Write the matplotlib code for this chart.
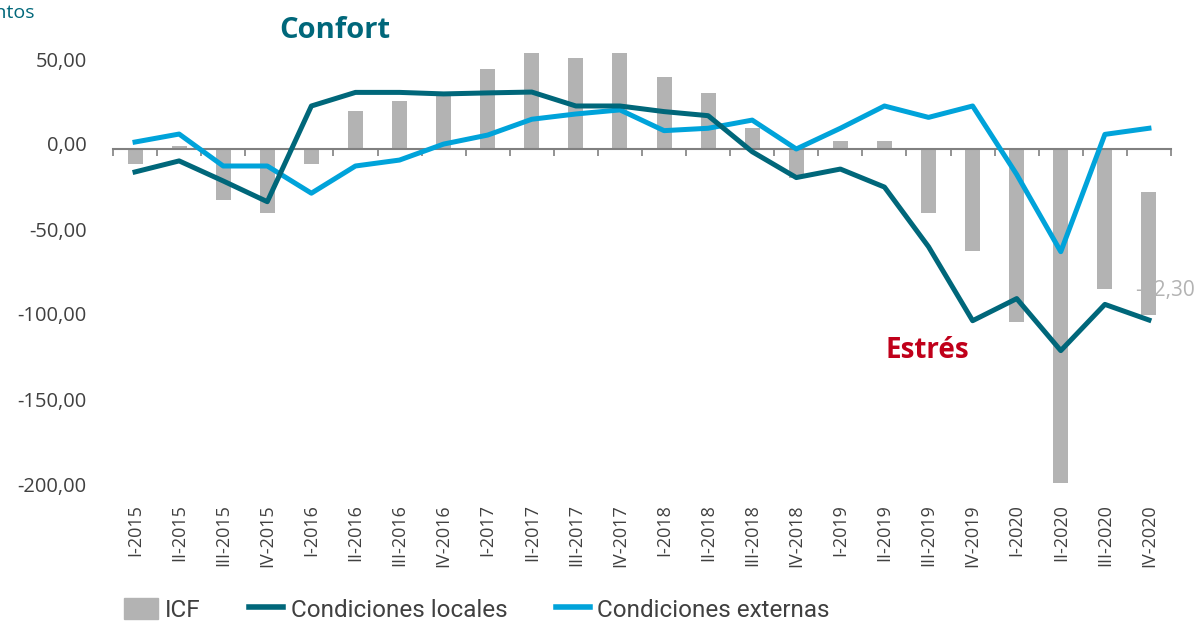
"""Indice de condiciones financieras: ICF y sus componentes."""

import matplotlib

matplotlib.use("Agg")
import matplotlib.pyplot as plt
from matplotlib.lines import Line2D
from matplotlib.patches import Patch
from matplotlib.transforms import ScaledTranslation

quarters = [
    "I-2015", "II-2015", "III-2015", "IV-2015",
    "I-2016", "II-2016", "III-2016", "IV-2016",
    "I-2017", "II-2017", "III-2017", "IV-2017",
    "I-2018", "II-2018", "III-2018", "IV-2018",
    "I-2019", "II-2019", "III-2019", "IV-2019",
    "I-2020", "II-2020", "III-2020", "IV-2020",
]
icf = [
    -8.8, 1.9, -30.0, -37.5, -8.8, 22.5, 28.4, 31.0,
    47.0, 56.5, 53.5, 56.5, 42.4, 32.9, 12.4, -17.0,
    4.7, 4.7, -37.5, -60.0, -101.6, -196.3, -82.4, -72.3,
]
icf_base = [0.0] * 23 + [-25.5]
locales = [
    -13.5, -7.0, -18.8, -31.0, 25.3, 33.3, 33.3, 32.4,
    33.0, 33.5, 25.3, 25.3, 22.0, 19.6, -1.6, -16.8,
    -11.8, -22.4, -57.5, -101.0, -88.0, -118.6, -91.4, -100.6,
]
externas = [
    4.1, 8.8, -10.0, -10.0, -26.0, -10.0, -6.5, 2.9,
    8.2, 17.5, 20.6, 23.0, 10.8, 12.2, 17.0, 0.0,
    12.2, 25.3, 18.6, 25.3, -15.0, -60.4, 8.6, 12.2,
]
y_ticks = [-200, -150, -100, -50, 0, 50]

GRAY = "#b3b3b3"
TEAL = "#00677a"
BLUE = "#00a3da"
RED = "#c0001a"
TEXT = "#404040"

plt.rcParams["font.family"] = ["Open Sans", "DejaVu Sans"]

fig = plt.figure(figsize=(12, 6.22), dpi=100)
ax = fig.add_axes([113 / 1200, 1 - 489 / 622, 1058 / 1200, 442 / 622])
x = list(range(len(quarters)))

ax.bar(x, icf, bottom=icf_base, width=0.34, color=GRAY, zorder=2)
ax.plot(x, locales, color=TEAL, lw=3.6, zorder=4)
ax.plot(x, externas, color=BLUE, lw=3.6, zorder=3)

ax.set_xlim(-0.5, len(quarters) - 0.5)
ax.set_ylim(-200, 60)

# eje x en cero con marcas entre categorias
for side in ("top", "right", "left"):
    ax.spines[side].set_visible(False)
ax.spines["bottom"].set_position(("data", 0))
ax.spines["bottom"].set_color("#808080")
ax.spines["bottom"].set_linewidth(1.5)
ax.set_xticks([i - 0.5 for i in range(len(quarters) + 1)])
ax.tick_params(axis="x", labelbottom=False, direction="out", length=5,
               width=1.2, color="#808080")

ax.set_yticks(y_ticks, [f"{v:.2f}".replace(".", ",") for v in y_ticks])
ax.tick_params(axis="y", length=0, pad=19, labelsize=14.5, labelcolor=TEXT)
for label in ax.get_yticklabels():
    label.set_transform(label.get_transform()
                        + ScaledTranslation(0, 0.05, fig.dpi_scale_trans))

sec = ax.secondary_xaxis("bottom")
sec.set_xticks(x, quarters, rotation=90)
sec.tick_params(length=0, pad=11, labelsize=13, labelcolor=TEXT)
sec.spines["bottom"].set_visible(False)

# etiqueta del ultimo dato, tapada en parte por la barra
ax.text(x[-1] - 0.32, -83.5, f"-{abs(icf[-1]):.2f}".replace(".", ","),
        color=GRAY, fontsize=15, ha="left", va="center", zorder=1)

fig.text(335 / 1200, 1 - 31 / 622, "Confort", color=TEAL, fontsize=21,
         fontweight="bold", ha="center", va="center")
fig.text(927 / 1200, 1 - 351 / 622, "Estrés", color=RED, fontsize=20,
         fontweight="bold", ha="center", va="center")
fig.text(35 / 1200, 1 - 13 / 622, "Puntos", color=TEAL, fontsize=14,
         ha="right", va="center")

handles = [
    Patch(color=GRAY),
    Line2D([], [], color=TEAL, lw=4),
    Line2D([], [], color=BLUE, lw=4),
]
fig.legend(
    handles,
    ["ICF", "Condiciones locales", "Condiciones externas"],
    loc="lower left",
    bbox_to_anchor=(0.085, -0.035),
    ncol=3,
    frameon=False,
    prop={"family": ["Roboto", "DejaVu Sans"], "size": 17.5},
    labelcolor=TEXT,
    handlelength=1.4,
    handleheight=1.0,
    handletextpad=0.3,
    columnspacing=2.0,
)

fig.savefig("out.png", dpi=100)
